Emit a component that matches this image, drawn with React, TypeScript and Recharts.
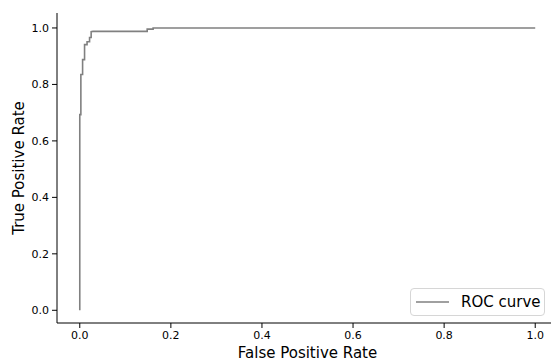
import React from 'react';
import { LineChart, Line, XAxis, YAxis, Legend, Label } from 'recharts';

// ROC curve corners
const fpr = [0, 0, 0.0024, 0.0024, 0.0062, 0.0062, 0.0105, 0.0105, 0.016, 0.016, 0.0215, 0.0215, 0.025, 0.025, 0.029, 0.148, 0.148, 0.161, 0.161, 1.0];
const tpr = [0, 0.693, 0.693, 0.835, 0.835, 0.888, 0.888, 0.941, 0.941, 0.951, 0.951, 0.966, 0.966, 0.987, 0.988, 0.988, 0.996, 0.996, 1.0, 1.0];

const xTicks = [0, 0.2, 0.4, 0.6, 0.8, 1.0];
const yTicks = [0, 0.2, 0.4, 0.6, 0.8, 1.0];

const seriesName = 'ROC curve';
const xLabel = 'False Positive Rate';
const yLabel = 'True Positive Rate';

const data = fpr.map((x, i) => ({ fpr: x, tpr: tpr[i] }));

const LegendBox = () => (
  <div
    style={{
      width: 133,
      height: 26,
      border: '1px solid #d6d6d6',
      borderRadius: 4,
      background: 'rgba(255,255,255,0.8)',
      display: 'flex',
      alignItems: 'center',
      fontSize: 15,
      color: '#000',
    }}
  >
    <svg width={50} height={26}>
      <line x1={5} x2={38} y1={13} y2={13} stroke="#808080" strokeWidth={1.6} />
    </svg>
    <span>{seriesName}</span>
  </div>
);

export default function App() {
  return (
    <div
      style={{
        position: 'fixed',
        left: 0,
        top: 0,
        width: 551,
        height: 362,
        overflow: 'hidden',
        background: '#fff',
        fontFamily: '"DejaVu Sans", sans-serif',
      }}
    >
      <LineChart width={560} height={362} data={data} margin={{ top: 13, right: 2, left: 0, bottom: 0 }}>
        <XAxis
          dataKey="fpr"
          type="number"
          domain={[-0.05, 1.05]}
          ticks={xTicks}
          allowDataOverflow
          tickFormatter={(v: number) => v.toFixed(1)}
          tick={{ fill: '#000', fontSize: 11 }}
          stroke="#000"
          tickSize={5}
          tickMargin={3}
          height={39}
        >
          <Label value={xLabel} position="insideBottom" offset={4} style={{ fontSize: 15, fill: '#000' }} />
        </XAxis>
        <XAxis
          xAxisId="top"
          orientation="top"
          type="number"
          domain={[-0.05, 1.05]}
          tick={false}
          tickLine={false}
          stroke="#000"
          height={0}
        />
        <YAxis
          type="number"
          domain={[-0.045, 1.053]}
          ticks={yTicks}
          allowDataOverflow
          tickFormatter={(v: number) => v.toFixed(1)}
          tick={{ fill: '#000', fontSize: 11 }}
          stroke="#000"
          tickSize={5}
          tickMargin={3}
          width={57}
        >
          <Label
            content={({ viewBox }: any) => {
              const cy = viewBox.y + viewBox.height / 2;
              const cx = 24;
              return (
                <text
                  x={cx}
                  y={cy}
                  transform={`rotate(-90 ${cx} ${cy})`}
                  textAnchor="middle"
                  fontSize={15}
                  fill="#000"
                >
                  {yLabel}
                </text>
              );
            }}
          />
        </YAxis>
        <Legend
          layout="vertical"
          align="center"
          verticalAlign="middle"
          content={() => <LegendBox />}
          wrapperStyle={{ left: 410, top: 288, width: 'auto', height: 'auto' }}
        />
        <Line
          type="linear"
          dataKey="tpr"
          name={seriesName}
          stroke="#808080"
          strokeWidth={1.6}
          dot={false}
          isAnimationActive={false}
        />
      </LineChart>
    </div>
  );
}
